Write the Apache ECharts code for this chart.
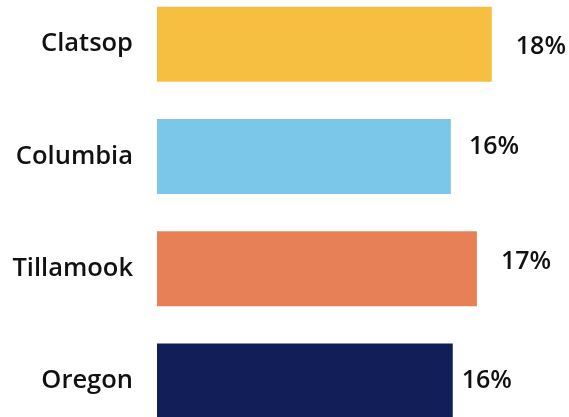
<!DOCTYPE html>
<html>
<head>
  <meta charset="utf-8" />
  <title></title>
  <style type="text/css">
  body, html {width: 100%; height: 100%; overflow: hidden; margin: 0; background: #fff;}
  /* the plot is a bit taller than the window: the last bar runs off the bottom */
  #main {position: absolute; left: 0; top: -12px; width: 569px; height: 449px;}
  </style>
  <script src="https://cdn.jsdelivr.net/npm/echarts@6/dist/echarts.min.js"></script>
</head>
<body>
<div id="main"></div>
<script type="text/javascript">
// data
var counties = ['Clatsop', 'Columbia', 'Tillamook', 'Oregon'];
var shares = [18.0, 15.8, 17.2, 15.9];   // percent

// look
var barColors = ['#F6BF42', '#7BC7E9', '#E88057', '#121E57'];
// the value labels are not placed evenly in the original
var labelGap = [24, 18, 24, 9];
var labelShift = [3, -10, -7, 0];

var chart = echarts.init(document.getElementById('main'));

var items = shares.map(function (v, i) {
    return {
        value: v,
        itemStyle: {color: barColors[i]},
        label: {distance: labelGap[i], offset: [0, labelShift[i]]}
    };
});

var option = {
    animation: false,
    grid: {left: 157, right: 40, top: 0, bottom: 0, containLabel: false},
    xAxis: {
        type: 'value',
        min: 0,
        max: 20,
        show: false
    },
    yAxis: {
        type: 'category',
        data: counties,
        inverse: true,
        axisLine: {show: false},
        axisTick: {show: false},
        splitLine: {show: false},
        axisLabel: {
            margin: 24,
            color: '#111',
            fontSize: 25.5,
            fontFamily: 'Open Sans',
            fontWeight: 600
        }
    },
    series: [{
        type: 'bar',
        data: items,
        barWidth: 75,
        label: {
            show: true,
            position: 'right',
            color: '#111',
            fontSize: 25,
            fontFamily: 'Open Sans',
            fontWeight: 600,
            formatter: function (p) { return Math.round(p.value) + '%'; }
        }
    }]
};
chart.setOption(option);
</script>
</body>
</html>
